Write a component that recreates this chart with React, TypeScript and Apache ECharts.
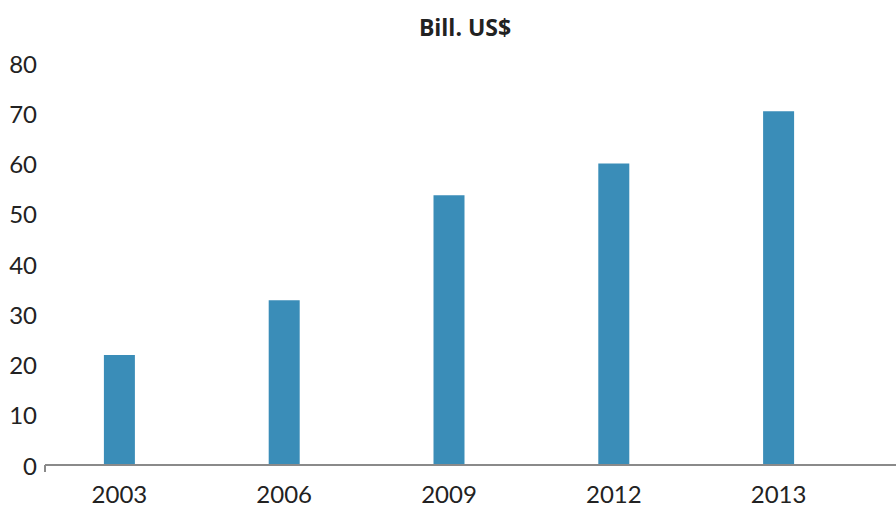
import React, { useEffect, useRef } from "react";
import * as echarts from "echarts";

const years = ["2003", "2006", "2009", "2012", "2013"];
const values = [21.9, 32.8, 53.7, 60.0, 70.4];
const yTicks = [0, 10, 20, 30, 40, 50, 60, 70, 80];
const title = "Bill. US$";

export default function App() {
  const ref = useRef<HTMLDivElement>(null);
  useEffect(() => {
    document.body.style.margin = "0";
    if (!ref.current) return;
    const chart = echarts.init(ref.current, null, { renderer: "svg" });
    chart.setOption({
      animation: false,
      backgroundColor: "#ffffff",
      title: {
        text: title,
        left: 460,
        top: 10,
        textAlign: "center",
        textStyle: { fontFamily: "Open Sans", fontWeight: "bold", fontSize: 23, color: "#222222" },
      },
      grid: { left: 37, right: 35, top: 63, bottom: 42, containLabel: false },
      xAxis: {
        type: "category",
        data: years,
        axisLine: { show: false },
        axisTick: { show: false },
        axisLabel: { fontFamily: "Lato", fontSize: 24, color: "#222222", margin: 16 },
      },
      yAxis: {
        type: "value",
        min: yTicks[0],
        max: yTicks[yTicks.length - 1],
        interval: 10,
        splitLine: { show: false },
        axisLine: { show: false },
        axisTick: { show: false },
        axisLabel: { fontFamily: "Lato", fontSize: 24, color: "#222222", margin: 0 },
      },
      series: [
        {
          type: "bar",
          data: values,
          barWidth: 31,
          itemStyle: { color: "#3a8db8" },
        },
      ],
      graphic: [
        {
          type: "line",
          shape: { x1: 45, y1: 465, x2: 896, y2: 465 },
          style: { stroke: "#8a8a8a", lineWidth: 2 },
          z: 10,
        },
        {
          type: "line",
          shape: { x1: 45, y1: 465, x2: 45, y2: 472 },
          style: { stroke: "#8a8a8a", lineWidth: 2 },
          z: 10,
        },
      ],
    });
    return () => chart.dispose();
  }, []);
  return <div ref={ref} style={{ width: 896, height: 507 }} />;
}
